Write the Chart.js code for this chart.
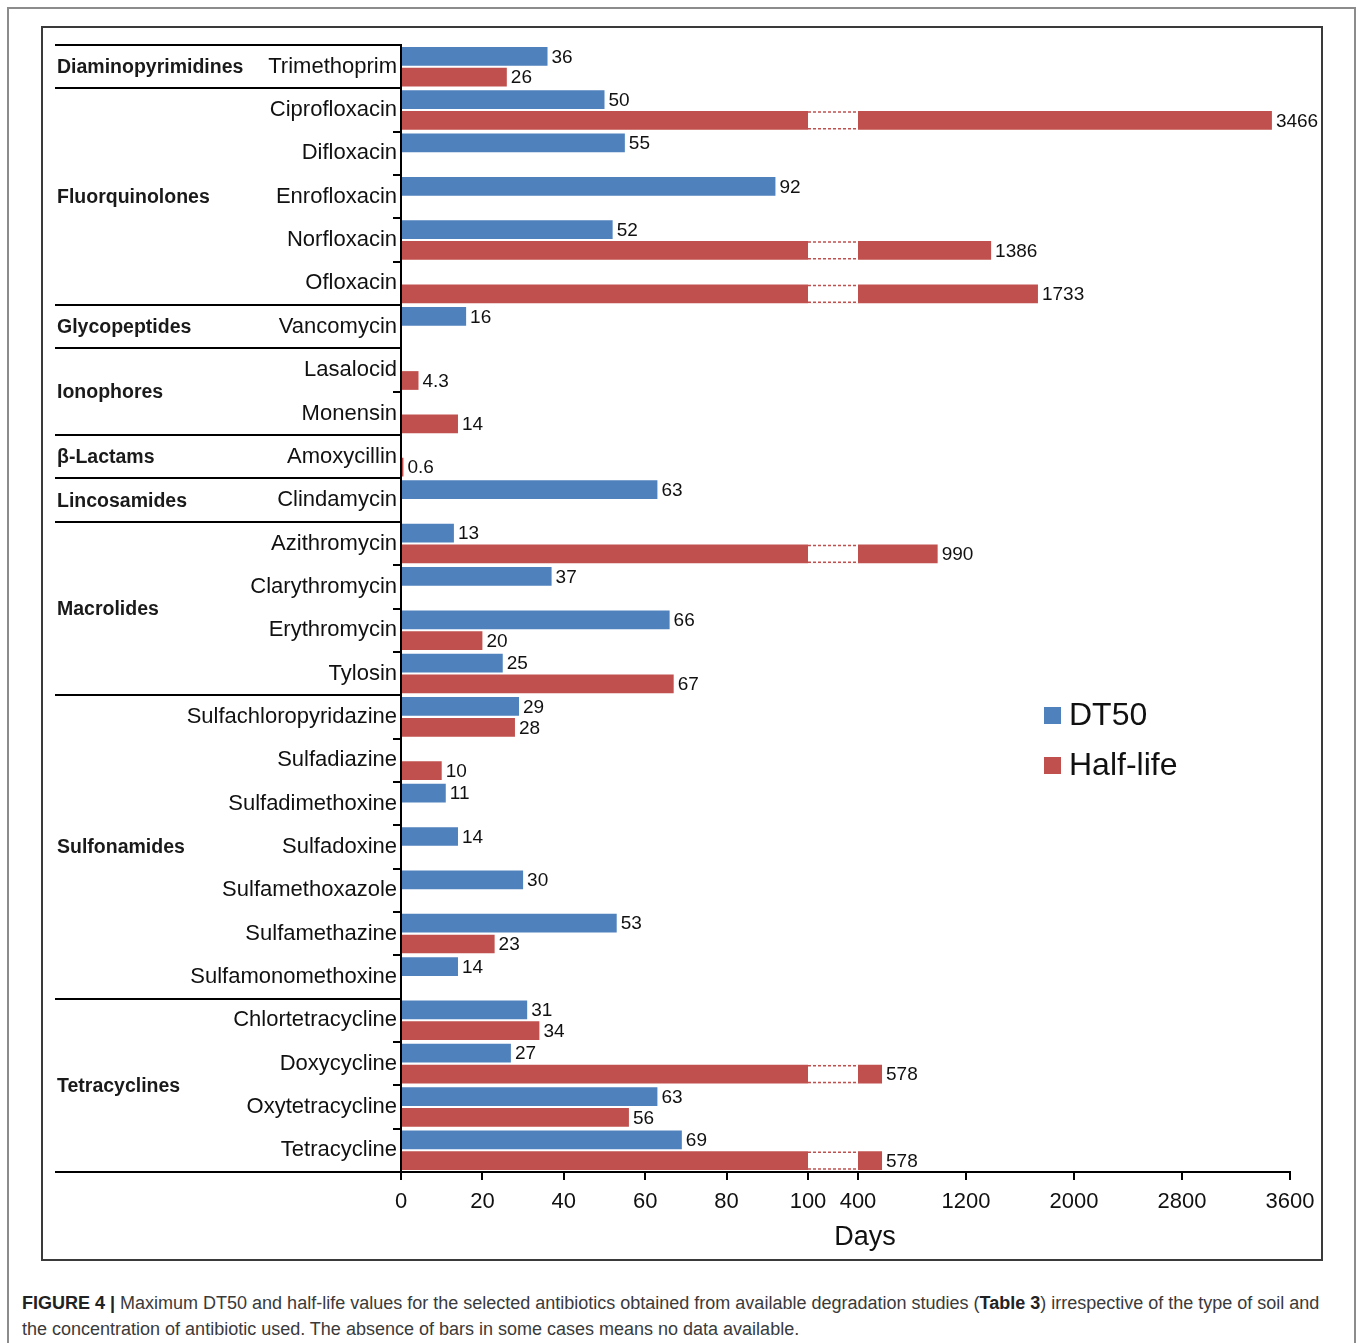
<!DOCTYPE html>
<html><head><meta charset="utf-8">
<script src="https://cdn.jsdelivr.net/npm/chart.js@4.4.1/dist/chart.umd.min.js"></script>
<style>
html,body{margin:0;padding:0;background:#fff;}
body{width:1358px;height:1343px;position:relative;overflow:hidden;font-family:"Liberation Sans",Arial,Helvetica,sans-serif;}
#outer{position:absolute;left:7px;top:7px;width:1349px;height:1400px;border:2px solid #8c8c8c;box-sizing:border-box;}
#frame{position:absolute;left:41px;top:26px;width:1282px;height:1235px;border:2px solid #3a3a3a;box-sizing:border-box;}
#c{position:absolute;left:43px;top:28px;}
#cap{position:absolute;left:22px;top:1290px;width:1330px;font-size:18px;line-height:26px;color:#3a3a3a;white-space:nowrap;}
#cap b{color:#222;}
</style></head>
<body>
<div id="outer"></div>
<div id="frame"></div>
<canvas id="c" width="1277" height="1230"></canvas>
<div id="cap"><b>FIGURE 4 |</b> Maximum DT50 and half-life values for the selected antibiotics obtained from available degradation studies (<b>Table 3</b>) irrespective of the type of soil and<br>the concentration of antibiotic used. The absence of bars in some cases means no data available.</div>
<script>
const categories = ["Trimethoprim","Ciprofloxacin","Difloxacin","Enrofloxacin","Norfloxacin","Ofloxacin","Vancomycin","Lasalocid","Monensin","Amoxycillin","Clindamycin","Azithromycin","Clarythromycin","Erythromycin","Tylosin","Sulfachloropyridazine","Sulfadiazine","Sulfadimethoxine","Sulfadoxine","Sulfamethoxazole","Sulfamethazine","Sulfamonomethoxine","Chlortetracycline","Doxycycline","Oxytetracycline","Tetracycline"];
const dt50 = [36,50,55,92,52,null,16,null,null,null,63,13,37,66,25,29,null,11,14,30,53,14,31,27,63,69];
const halfLife = [26,3466,null,null,1386,1733,null,4.3,14,0.6,null,990,null,20,67,28,10,null,null,null,23,null,34,578,56,578];
const groupNames = ["Diaminopyrimidines","Fluorquinolones","Glycopeptides","Ionophores","\u03b2-Lactams","Lincosamides","Macrolides","Sulfonamides","Tetracyclines"];
const groupSizes = [1,5,1,2,1,1,4,7,4];
const tickValues = [0,20,40,60,80,100,400,1200,2000,2800,3600];
const tickLabels = ["0","20","40","60","80","100","400","1200","2000","2800","3600"];
const seriesNames = ["DT50","Half-life"];
const seriesColors = ["#4F81BD","#C0504D"];

// broken axis: 0-100 linear, gap, then 400-3600
const BREAK_LO = 100, BREAK_HI = 400, GAP = 12.285, UNIT800 = 26.536;
const T = v => v <= BREAK_LO ? v : BREAK_LO + GAP + (v - BREAK_HI) / 800 * UNIT800;

const FONT = '"Liberation Sans", Arial, Helvetica, sans-serif';
const raws = [dt50, halfLife];

const overlay = {
  id: 'overlay',
  afterDatasetsDraw(chart) {
    const ctx = chart.ctx, xs = chart.scales.x;
    const x1 = xs.getPixelForValue(BREAK_LO), x2 = xs.getPixelForValue(T(BREAK_HI));
    chart.data.datasets.forEach((ds, di) => {
      const meta = chart.getDatasetMeta(di);
      const raw = raws[di];
      meta.data.forEach((bar, i) => {
        const v = raw[i];
        if (v == null) return;
        const h = bar.height, top = bar.y - h / 2, bot = bar.y + h / 2;
        if (v > BREAK_LO) {
          ctx.save();
          ctx.fillStyle = '#fff';
          ctx.fillRect(x1, top - 0.5, x2 - x1, h + 1);
          ctx.strokeStyle = ds.backgroundColor;
          ctx.lineWidth = 1.5;
          ctx.setLineDash([3, 2]);
          ctx.beginPath();
          ctx.moveTo(x1, top + 1); ctx.lineTo(x2, top + 1);
          ctx.moveTo(x1, bot - 1); ctx.lineTo(x2, bot - 1);
          ctx.stroke();
          ctx.restore();
        }
        ctx.save();
        ctx.fillStyle = '#111';
        ctx.font = '19px ' + FONT;
        ctx.textAlign = 'left';
        ctx.textBaseline = 'middle';
        ctx.fillText(String(v), bar.x + 4, bar.y + 1);
        ctx.restore();
      });
    });
  },
  afterDraw(chart) {
    const ctx = chart.ctx, ys = chart.scales.y;
    const left = chart.chartArea.left;
    const n = categories.length;
    const band = (ys.bottom - ys.top) / n;
    ctx.save();
    ctx.strokeStyle = '#000';
    ctx.lineWidth = 2;
    // y tick marks at category boundaries
    ctx.beginPath();
    for (let k = 0; k <= n; k++) {
      const y = Math.round(ys.top + k * band);
      ctx.moveTo(left - 8, y); ctx.lineTo(left, y);
    }
    ctx.stroke();
    // group separators and labels
    let acc = 0;
    const bounds = [0];
    groupSizes.forEach(s => { acc += s; bounds.push(acc); });
    ctx.beginPath();
    bounds.forEach(b => {
      const y = Math.round(ys.top + b * band);
      ctx.moveTo(12, y); ctx.lineTo(left, y);
    });
    ctx.stroke();
    ctx.fillStyle = '#1a1a1a';
    ctx.font = 'bold 19.5px ' + FONT;
    ctx.textAlign = 'left';
    ctx.textBaseline = 'middle';
    groupNames.forEach((g, i) => {
      const yc = ys.top + (bounds[i] + bounds[i + 1]) / 2 * band;
      ctx.fillText(g, 14, yc + 1);
    });
    // axis title
    ctx.fillStyle = '#111';
    ctx.font = '27px ' + FONT;
    ctx.textAlign = 'center';
    ctx.fillText('Days', 822, 1210);
    // legend
    ctx.textAlign = 'left';
    ctx.font = '32px ' + FONT;
    seriesNames.forEach((s, i) => {
      const y = 679 + i * 50;
      ctx.fillStyle = seriesColors[i];
      ctx.fillRect(1001, y, 17, 17);
      ctx.fillStyle = '#111';
      ctx.fillText(s, 1026, y + 9);
    });
    ctx.restore();
  }
};

new Chart(document.getElementById('c'), {
  type: 'bar',
  data: {
    labels: categories,
    datasets: seriesNames.map((s, i) => ({
      label: s,
      data: raws[i].map(v => v == null ? null : T(v)),
      backgroundColor: seriesColors[i],
      borderWidth: 0
    }))
  },
  options: {
    indexAxis: 'y',
    responsive: false,
    animation: false,
    devicePixelRatio: 1,
    layout: { padding: { left: 0, right: 30, top: 17, bottom: 0 } },
    datasets: { bar: { categoryPercentage: 0.96, barPercentage: 0.9 } },
    plugins: { legend: { display: false }, tooltip: { enabled: false } },
    scales: {
      x: {
        type: 'linear', position: 'bottom', min: 0, max: T(3600), z: 1,
        afterBuildTicks: s => { s.ticks = tickValues.map(v => ({ value: T(v) })); },
        afterFit: s => { s.height = 86; s.paddingLeft = 0; s.paddingRight = 0; },
        ticks: { callback: (v, i) => tickLabels[i], font: { size: 22, family: FONT }, color: '#111', padding: 9, maxRotation: 0, autoSkip: false },
        grid: { drawOnChartArea: false, drawTicks: true, tickLength: 8, color: '#000', lineWidth: 2 },
        border: { display: true, color: '#000', width: 2 }
      },
      y: {
        type: 'category', z: 1,
        afterFit: s => { s.width = 358; s.paddingTop = 0; s.paddingBottom = 0; },
        ticks: { font: { size: 22, family: FONT }, color: '#111', padding: 4, autoSkip: false },
        grid: { display: false, drawTicks: false, tickLength: 0 },
        border: { display: true, color: '#000', width: 2 }
      }
    }
  },
  plugins: [overlay]
});
</script>
</body></html>
